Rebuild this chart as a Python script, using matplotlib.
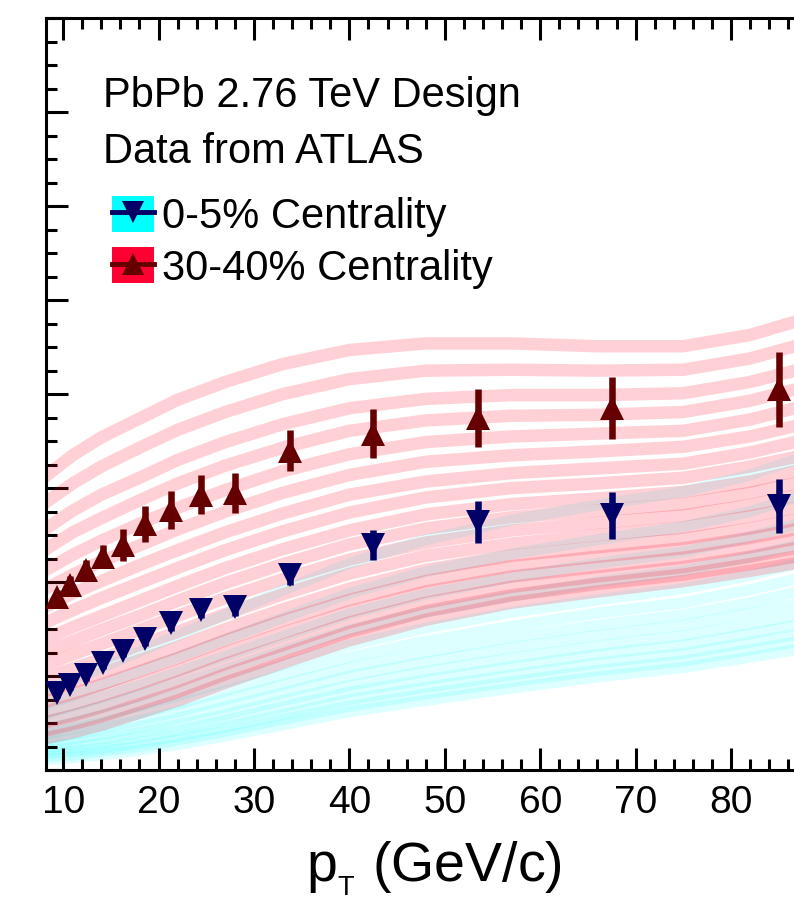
import numpy as np
import matplotlib.pyplot as plt
from matplotlib.patches import Patch
from matplotlib.lines import Line2D
from matplotlib.ticker import MultipleLocator

plt.rcParams['font.family'] = ['Liberation Sans', 'DejaVu Sans']
plt.rcParams['mathtext.default'] = 'regular'

# ATLAS charged hadron data
pt = [9.4, 10.7, 12.4, 14.2, 16.3, 18.6, 21.3, 24.4, 28.0, 33.8, 42.5, 53.5, 67.5, 85.0]
raa_0_5 = [0.182, 0.190, 0.201, 0.214, 0.227, 0.239, 0.256, 0.270, 0.273, 0.307, 0.339, 0.364, 0.371, 0.381]
err_0_5 = [0.005, 0.005, 0.006, 0.006, 0.007, 0.007, 0.008, 0.008, 0.009, 0.010, 0.016, 0.022, 0.025, 0.029]
raa_30_40 = [0.284, 0.297, 0.313, 0.327, 0.339, 0.362, 0.377, 0.393, 0.395, 0.440, 0.458, 0.475, 0.485, 0.505]
err_30_40 = [0.008, 0.009, 0.010, 0.012, 0.017, 0.019, 0.020, 0.021, 0.021, 0.022, 0.026, 0.031, 0.033, 0.040]

# design curves (model), sampled at these pT values
pt_model = [8.2, 11, 14, 18, 22, 27, 33, 40, 48, 57, 66, 75, 82, 86.7]

red_curves = [
    [.413, .435, .454, .474, .494, .513, .532, .547, .554, .554, .551, .551, .563, .577],
    [.385, .405, .423, .443, .462, .481, .500, .516, .525, .526, .525, .526, .538, .551],
    [.357, .376, .393, .411, .430, .449, .468, .485, .495, .499, .499, .501, .513, .525],
    [.335, .353, .368, .387, .405, .424, .443, .461, .472, .477, .478, .481, .493, .505],
    [.313, .329, .344, .362, .379, .398, .418, .436, .449, .455, .458, .461, .473, .485],
    [.293, .308, .322, .339, .356, .375, .395, .414, .428, .435, .439, .444, .455, .466],
    [.274, .288, .301, .318, .334, .353, .373, .393, .407, .416, .421, .426, .438, .449],
    [.257, .270, .283, .299, .315, .334, .354, .374, .390, .400, .405, .411, .423, .433],
    [.240, .252, .264, .280, .296, .315, .335, .355, .372, .383, .389, .396, .407, .418],
    [.226, .237, .249, .264, .280, .299, .319, .340, .357, .369, .376, .383, .395, .405],
    [.212, .223, .234, .249, .264, .283, .303, .324, .342, .355, .363, .371, .382, .392],
    [.198, .208, .218, .233, .247, .266, .287, .309, .328, .341, .350, .358, .370, .379],
    [.184, .193, .203, .217, .231, .250, .271, .293, .313, .328, .337, .346, .357, .366],
    [.173, .181, .191, .205, .219, .238, .259, .281, .301, .317, .327, .336, .347, .356],
    [.162, .170, .179, .192, .206, .225, .246, .269, .290, .306, .316, .326, .337, .346],
    [.151, .158, .167, .180, .194, .213, .233, .257, .278, .295, .306, .316, .327, .336],
    [.142, .149, .157, .170, .183, .202, .223, .247, .269, .286, .298, .308, .319, .327],
    [.134, .140, .148, .161, .174, .193, .214, .238, .260, .278, .290, .301, .312, .320],
]

cyan_curves = [
    [.111, .113, .116, .121, .127, .136, .148, .162, .174, .187, .199, .209, .220, .228],
    [.114, .116, .120, .125, .132, .141, .154, .168, .181, .194, .206, .216, .228, .236],
    [.117, .120, .123, .129, .136, .146, .159, .175, .188, .201, .214, .224, .236, .244],
    [.121, .124, .128, .135, .142, .153, .167, .183, .196, .210, .223, .233, .245, .254],
    [.124, .128, .133, .140, .148, .159, .174, .190, .205, .219, .232, .243, .255, .264],
    [.129, .133, .138, .146, .155, .167, .182, .200, .215, .230, .243, .254, .267, .276],
    [.133, .138, .144, .153, .162, .175, .191, .209, .225, .241, .254, .265, .278, .289],
    [.138, .144, .150, .160, .170, .184, .201, .220, .237, .253, .267, .278, .292, .303],
    [.144, .150, .158, .168, .179, .194, .212, .233, .251, .268, .281, .293, .307, .319],
    [.152, .159, .167, .179, .191, .207, .227, .249, .268, .285, .300, .312, .327, .339],
    [.160, .168, .177, .190, .204, .221, .242, .266, .287, .305, .320, .332, .348, .361],
    [.170, .179, .190, .205, .220, .239, .262, .288, .311, .330, .345, .359, .375, .390],
    [.185, .196, .209, .226, .243, .265, .291, .320, .345, .366, .382, .396, .414, .430],
]

blue = '#000066'
dred = '#660000'

fig = plt.figure(figsize=(7.94, 9.02), dpi=100)
ax = fig.add_axes([46/794, 132/902, 751.8/794, 751.7/902])

for c in cyan_curves:
    ax.plot(pt_model, c, color='#00ffff', lw=8, alpha=0.13, zorder=1)
for r in red_curves:
    ax.plot(pt_model, r, color='#ff0022', lw=9, alpha=0.18, zorder=2)

ax.errorbar(pt, raa_0_5, yerr=err_0_5, fmt='none', ecolor=blue, elinewidth=4.7, zorder=3)
ax.plot(pt, raa_0_5, ls='none', marker='v', ms=17.5, mew=0, color=blue, zorder=4)
ax.errorbar(pt, raa_30_40, yerr=err_30_40, fmt='none', ecolor=dred, elinewidth=4.7, zorder=3)
ax.plot(pt, raa_30_40, ls='none', marker='^', ms=17.5, mew=0, color=dred, zorder=4)

ax.set_xlim(8.2, 87.0)
ax.set_ylim(0.1, 0.9)
ax.xaxis.set_major_locator(MultipleLocator(10))
ax.xaxis.set_minor_locator(MultipleLocator(2))
ax.yaxis.set_major_locator(MultipleLocator(0.1))
ax.yaxis.set_minor_locator(MultipleLocator(0.025))
ax.tick_params(which='both', direction='in', top=True, right=False, width=2.2,
               labelsize=28, pad=11, labelleft=False)
ax.tick_params(which='major', length=15.8)
ax.tick_params(which='minor', length=8)
for s in ax.spines.values():
    s.set_linewidth(2.2)

ax.set_xlabel('p$_{_{T}}$ (GeV/c)', fontsize=40, labelpad=13)
ax.xaxis.label.set_x(0.516)

ax.text(0.0758, 0.882, 'PbPb 2.76 TeV Design', transform=ax.transAxes, fontsize=30, va='baseline')
ax.text(0.0758, 0.8075, 'Data from ATLAS', transform=ax.transAxes, fontsize=30, va='baseline')

handles = [
    (Patch(facecolor='#00ffff', edgecolor='none'),
     Line2D([], [], color=blue, lw=3.5, marker='v', ms=16, mew=0)),
    (Patch(facecolor='#ff0033', edgecolor='none'),
     Line2D([], [], color=dred, lw=3.5, marker='^', ms=16, mew=0)),
]
ax.legend(handles, ['0-5% Centrality', '30-40% Centrality'], loc='upper left',
          bbox_to_anchor=(0.0878, 0.764), frameon=False, fontsize=30,
          handlelength=1.0, handleheight=0.95, handletextpad=0.2,
          labelspacing=0.25, borderpad=0, borderaxespad=0)

fig.savefig('out.png', dpi=100)
